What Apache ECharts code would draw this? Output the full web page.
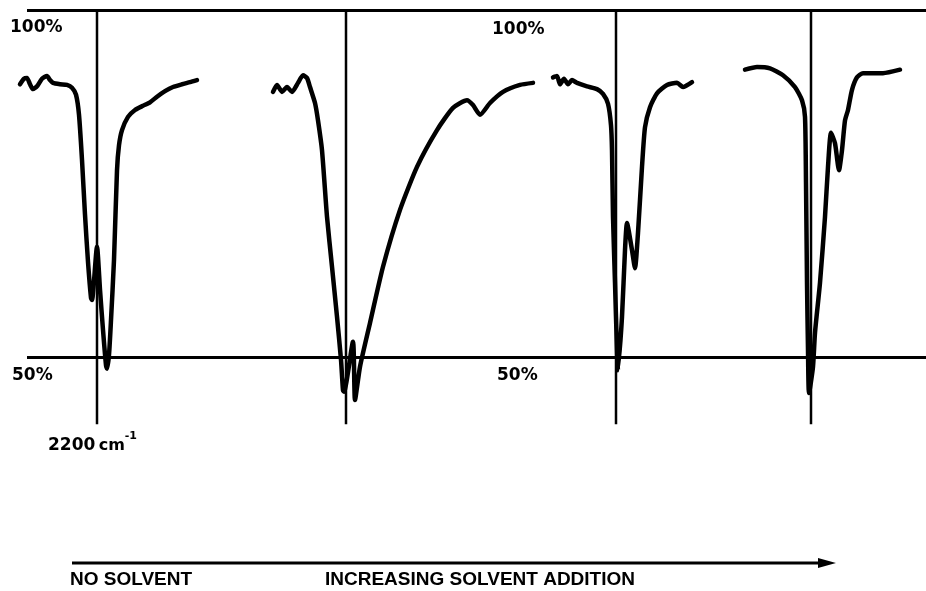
<!DOCTYPE html>
<html>
<head>
<meta charset="utf-8">
<script src="https://cdn.jsdelivr.net/npm/echarts@6/dist/echarts.min.js"></script>
<style>
  html, body { margin: 0; padding: 0; background: #fff; }
  #chart { width: 926px; height: 591px; }
</style>
</head>
<body>
<div id="chart"></div>
<script>
// IR transmittance traces around the 2200 cm-1 band, [wavenumber (cm-1), transmittance (%)]
const noSolvent = [[2354,89.3],[2346,90.1],[2340,90.2],[2334,89.3],[2328,88.6],[2320,89.0],[2310,90.1],[2300,90.5],[2294,89.9],[2288,89.5],[2274,89.3],[2260,89.2],[2250,88.8],[2242,87.8],[2236,84.9],[2230,78.4],[2224,70.5],[2218,63.7],[2212,58.5],[2210,58.2],[2200,65.9],[2194,59.7],[2188,53.9],[2182,48.8],[2180,48.3],[2176,50.3],[2172,55.3],[2166,64.0],[2160,76.9],[2156,80.5],[2150,82.7],[2138,84.6],[2124,85.6],[2108,86.2],[2094,86.7],[2080,87.5],[2064,88.3],[2048,88.9],[2030,89.3],[2014,89.6],[2000,89.9]];

const solventStep1 = [[2346,88.2],[2338,89.2],[2328,88.2],[2318,88.9],[2308,88.2],[2296,89.5],[2286,90.6],[2278,90.2],[2272,88.9],[2262,86.6],[2256,84.1],[2248,79.8],[2238,70.2],[2228,63.0],[2218,55.8],[2210,49.6],[2206,45.2],[2204,45.0],[2186,52.2],[2182,43.8],[2172,48.6],[2152,54.9],[2126,63.0],[2092,71.2],[2058,77.4],[2018,82.7],[1986,85.9],[1958,87.0],[1946,86.3],[1932,84.9],[1912,86.6],[1886,88.2],[1852,89.2],[1826,89.5]];

const solventStep2 = [[2326,90.3],[2318,90.5],[2312,89.3],[2304,90.1],[2296,89.3],[2288,89.9],[2278,89.5],[2258,89.0],[2238,88.6],[2226,87.9],[2216,86.5],[2210,83.4],[2208,79.8],[2206,70.2],[2202,60.7],[2198,51.0],[2196,48.1],[2188,55.8],[2182,65.4],[2178,69.3],[2168,65.4],[2162,62.8],[2156,67.9],[2148,77.4],[2142,83.1],[2132,86.0],[2118,88.0],[2098,89.2],[2078,89.5],[2066,88.9],[2048,89.6]];

const solventStep3 = [[2332,91.4],[2308,91.8],[2282,91.6],[2256,90.6],[2232,88.9],[2218,87.0],[2212,84.6],[2210,75.1],[2208,60.7],[2206,51.0],[2204,44.8],[2196,48.6],[2192,53.5],[2182,60.7],[2172,70.2],[2166,77.4],[2160,82.3],[2152,80.8],[2144,76.9],[2138,79.8],[2132,84.1],[2126,85.6],[2118,88.5],[2108,90.3],[2096,90.9],[2076,90.9],[2056,90.9],[2022,91.4]];

const spectra = [noSolvent, solventStep1, solventStep2, solventStep3];
const referenceLevels = [100, 50];          // transmittance guide lines (%)
const bandCenter = 2200;                    // cm-1, vertical marker in each panel
const markerBottom = 40.3;                  // transmittance where the marker ends
const bandLabel = '2200';
const bandUnit = 'cm';
const bandExp = '-1';
const leftCaption = 'NO SOLVENT';
const rightCaption = 'INCREASING SOLVENT ADDITION';

// panel placement: pixel x of each 2200 cm-1 marker; 2 cm-1 per pixel
const panelX = [97, 346, 616, 811];
const NU_MAX = 2360, CM_PER_PX = 2;
const TOP = 10, H = 347;
const INK = '#000';

const grids = [{ left: 27, right: 0, top: TOP, height: H }];
const xAxes = [{ type: 'value', gridIndex: 0, min: 0, max: 1, show: false }];
const yAxes = [{ type: 'value', gridIndex: 0, min: 50, max: 100, show: false }];
panelX.forEach((cx, i) => {
  // lower wavenumber bound covers the whole trace so nothing is dropped
  const nuMin = Math.floor(Math.min.apply(null, spectra[i].map(p => p[0])) / 20) * 20;
  grids.push({ left: cx - (NU_MAX - bandCenter) / CM_PER_PX, width: (NU_MAX - nuMin) / CM_PER_PX, top: TOP, height: H });
  xAxes.push({ type: 'value', gridIndex: i + 1, inverse: true, min: nuMin, max: NU_MAX, show: false });
  yAxes.push({ type: 'value', gridIndex: i + 1, min: 50, max: 100, show: false });
});

const series = [{
  type: 'line', xAxisIndex: 0, yAxisIndex: 0, data: [], silent: true,
  markLine: {
    symbol: 'none', silent: true, label: { show: false },
    lineStyle: { color: INK, width: 3, type: 'solid' },
    data: referenceLevels.map(v => ({ yAxis: v }))
  }
}];
spectra.forEach((d, i) => {
  // vertical band marker
  series.push({
    type: 'line', xAxisIndex: i + 1, yAxisIndex: i + 1, clip: false, silent: true,
    symbol: 'none', lineStyle: { color: INK, width: 2.5 },
    data: [[bandCenter, 100], [bandCenter, markerBottom]]
  });
  // transmittance trace
  series.push({
    type: 'line', xAxisIndex: i + 1, yAxisIndex: i + 1, clip: false, silent: true,
    symbol: 'none', smooth: 0.2,
    lineStyle: { color: INK, width: 4.5, cap: 'round', join: 'round' },
    data: d
  });
});

const chart = echarts.init(document.getElementById('chart'), null, { renderer: 'canvas' });
chart.setOption({
  animation: false,
  backgroundColor: '#fff',
  grid: grids, xAxis: xAxes, yAxis: yAxes, series: series
});

// annotations positioned from the axes
const y100 = chart.convertToPixel({ gridIndex: 1 }, [bandCenter, 100])[1];
const y50 = chart.convertToPixel({ gridIndex: 1 }, [bandCenter, 50])[1];
const yMarker = chart.convertToPixel({ gridIndex: 1 }, [bandCenter, markerBottom])[1];
const x1 = chart.convertToPixel({ gridIndex: 1 }, [bandCenter, 100])[0];
const x3 = chart.convertToPixel({ gridIndex: 3 }, [bandCenter, 100])[0];

const levelFont = { fontFamily: 'DejaVu Sans', fontWeight: 'bold', fontSize: 17, fill: INK };
const capFont = { fontFamily: '"Liberation Sans", sans-serif', fontWeight: 'bold', fontSize: 19, fill: INK };
const arrowY = 563;

chart.setOption({
  graphic: [
    { type: 'text', left: 10, top: y100 + 9, style: Object.assign({ text: referenceLevels[0] + '%' }, levelFont) },
    { type: 'text', left: 12, top: y50 + 10, style: Object.assign({ text: referenceLevels[1] + '%' }, levelFont) },
    { type: 'text', left: x3 - 124, top: y100 + 11, style: Object.assign({ text: referenceLevels[0] + '%' }, levelFont) },
    { type: 'text', left: x3 - 119, top: y50 + 10, style: Object.assign({ text: referenceLevels[1] + '%' }, levelFont) },
    {
      type: 'text', left: x1 - 49, top: yMarker + 6,
      style: {
        text: '{n|' + bandLabel + '} {u|' + bandUnit + '}{e|' + bandExp + '}',
        rich: {
          n: { fontFamily: 'DejaVu Sans', fontWeight: 'bold', fontSize: 17, fill: INK, verticalAlign: 'bottom', lineHeight: 24 },
          u: { fontFamily: 'DejaVu Sans', fontWeight: 'bold', fontSize: 16, fill: INK, verticalAlign: 'bottom', lineHeight: 24 },
          e: { fontFamily: 'DejaVu Sans', fontWeight: 'bold', fontSize: 11, fill: INK, verticalAlign: 'top', lineHeight: 24 }
        }
      }
    },
    { type: 'line', shape: { x1: 72, y1: arrowY, x2: 822, y2: arrowY }, style: { stroke: INK, lineWidth: 3 } },
    { type: 'polygon', shape: { points: [[818, arrowY - 5], [836, arrowY], [818, arrowY + 5]] }, style: { fill: INK } },
    { type: 'text', left: 70, top: 570, style: Object.assign({ text: leftCaption }, capFont) },
    { type: 'text', left: 325, top: 570, style: Object.assign({ text: rightCaption }, capFont) }
  ]
});
</script>
</body>
</html>
